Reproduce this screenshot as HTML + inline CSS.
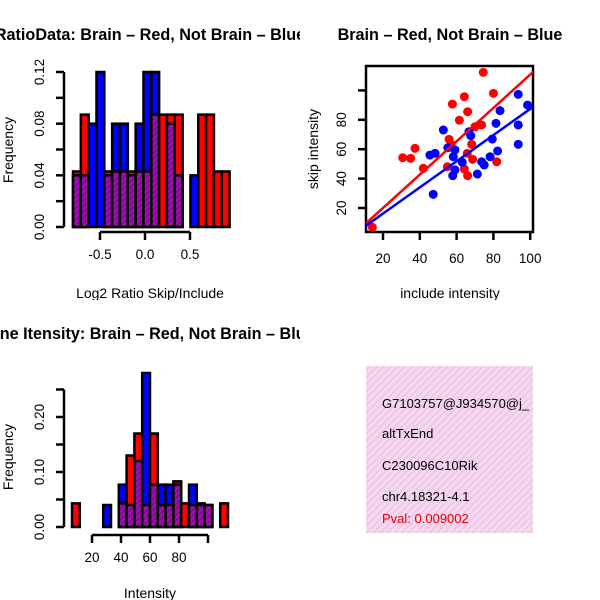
<!DOCTYPE html>
<html><head><meta charset="utf-8"><style>
html,body{margin:0;padding:0;background:#fff;}
svg{display:block;font-family:"Liberation Sans",Arial,sans-serif;}
</style></head><body>
<svg id="c" width="600" height="600" viewBox="0 0 600 600">
<defs>
<pattern id="purp" patternUnits="userSpaceOnUse" width="4" height="4" patternTransform="rotate(45)">
<rect width="4" height="4" fill="#a010b0"/><rect width="1.5" height="4" fill="#7a0a8a"/></pattern>
<pattern id="pink" patternUnits="userSpaceOnUse" width="5" height="5" patternTransform="rotate(45)">
<rect width="5" height="5" fill="#f6d6f2"/><rect width="1.5" height="5" fill="#e8c8dc"/></pattern>
<clipPath id="p1"><rect x="0" y="0" width="300" height="300"/></clipPath>
<clipPath id="p2"><rect x="300" y="0" width="300" height="300"/></clipPath>
<clipPath id="p3"><rect x="0" y="300" width="300" height="300"/></clipPath>
<clipPath id="p4"><rect x="366" y="366" width="167" height="167"/></clipPath>
<clipPath id="sc"><rect x="366" y="66" width="167" height="166"/></clipPath>
</defs>
<g id="g1" clip-path="url(#p1)"></g>
<g id="g2" clip-path="url(#p2)"></g>
<g id="g3" clip-path="url(#p3)"></g>
<g id="g4">
<rect x="366" y="366" width="167" height="167" fill="url(#pink)"/>
<g clip-path="url(#p4)" font-size="13">
<text x="382" y="408">G7103757@J934570@j_</text>
<text x="382" y="438">altTxEnd</text>
<text x="382" y="470">C230096C10Rik</text>
<text x="382" y="501">chr4.18321-4.1</text>
<text x="382" y="523" fill="#e00000">Pval: 0.009002</text>
</g></g>
</svg>
<script>
// Histogram 1 data (Log2 ratio)
const h1Start = -0.8, h1Width = 0.087;
const h1Red  = [0.043,0.087,0,0,0.043,0.043,0.043,0.043,0.043,0.043,0.087,0.087,0.087,0.087,0,0,0.087,0.087,0.043,0.043];
const h1Blue = [0.04,0.04,0.08,0.12,0.04,0.08,0.08,0.04,0.08,0.12,0.12,0,0.08,0.04,0,0.04,0,0,0,0];
const h1YTicks = [0,0.02,0.04,0.06,0.08,0.1,0.12];
const h1YLabels = ["0.00","","0.04","","0.08","","0.12"];
const h1XTicks = [-0.5,0,0.5];
const h1XLabels = ["-0.5","0.0","0.5"];
// Histogram 2 data (Intensity)
const h2Start = 6.2, h2Width = 5.38;
const h2Red  = [0.043,0,0,0,0,0,0.043,0.13,0.17,0.04,0.17,0.04,0.04,0.083,0.043,0.04,0.043,0.04,0,0.043];
const h2Blue = [0,0,0,0,0.04,0,0.077,0.04,0.12,0.28,0.077,0.077,0.077,0.077,0,0.077,0.04,0.04,0,0];
const h2YTicks = [0,0.05,0.1,0.15,0.2,0.25];
const h2YLabels = ["0.00","","0.10","","0.20",""];
const h2XTicks = [20,40,60,80,100];
const h2XLabels = ["20","40","60","80",""];
// Scatter data
const redX = [74.5,80,64.2,57.7,66,61.5,73.6,70,55.9,57,68.2,37.4,30.7,35,41.9,55,65.8,68.7,64.2,66,81.8,14.2];
const redY = [112.3,98,95.7,90.7,85.5,79.7,76.5,75.3,66.7,63.3,63.3,60.6,54.2,53.8,47,48.1,57.2,53.1,46.5,42,51.5,6.9];
const blueX = [93.5,98.6,83.6,81.4,93.5,52.8,66.7,67.7,79.4,93.5,55.2,59.1,58.2,45.5,48.3,63.1,73.6,75,78.2,82.3,59.1,57.9,71.3,47.3];
const blueY = [97.3,90,86.2,77.6,76.5,73.1,71.9,69.2,66.9,63.3,61,59.5,54.9,56,57.2,51.1,51.5,49.3,54.9,58.8,45.9,42,43.1,29.3];
const redFit = [-2.65,1.134];
const blueFit = [-1.6,0.89];
const scXTicks = [20,40,60,80,100];
const scYTicks = [20,40,60,80,100];
const scYLabels = ["20","40","60","80",""];

const NS="http://www.w3.org/2000/svg";
const TF=13.5, LF=14, TT=16.2;
function mk(parent,tag,attrs){const e=document.createElementNS(NS,tag);for(const k in attrs)e.setAttribute(k,attrs[k]);parent.appendChild(e);return e;}

function hist(g,start,width,red,blue,sx,sy,name){
  for(let i=0;i<red.length;i++){
    const x0=sx(start+i*width), x1=sx(start+(i+1)*width);
    const r=red[i], b=blue[i];
    const mx=Math.max(r,b), mn=Math.min(r,b);
    if(mx>0){
      const big=mk(g,'rect',{x:x0,y:sy(mx),width:x1-x0,height:sy(0)-sy(mx),fill:r>=b?'#ff0000':'#0000ff',stroke:'#000','stroke-width':2.5});
      
      
    }
    if(mn>0){
      const ov=mk(g,'rect',{x:x0,y:sy(mn),width:x1-x0,height:sy(0)-sy(mn),fill:'url(#purp)',stroke:'#000','stroke-width':2.5});
      
      
    }
  }
}
function yaxis(g,x,ticks,labels,sy,name){
  const l=mk(g,'line',{x1:x,x2:x,y1:sy(ticks[0]),y2:sy(ticks[ticks.length-1]),stroke:'#000','stroke-width':2.5});
  
  
  ticks.forEach((t,i)=>{
    mk(g,'line',{x1:x-8,x2:x,y1:sy(t),y2:sy(t),stroke:'#000','stroke-width':2.5});
    if(labels[i]){const tx=mk(g,'text',{x:x-20,y:sy(t),'font-size':TF,'text-anchor':'middle',transform:`rotate(-90 ${x-20} ${sy(t)})`});tx.textContent=labels[i];
      
      }
  });
}
function xaxis(g,y,ticks,labels,sx,name){
  const l=mk(g,'line',{x1:sx(ticks[0]),x2:sx(ticks[ticks.length-1]),y1:y,y2:y,stroke:'#000','stroke-width':2.5});
  
  
  ticks.forEach((t,i)=>{
    mk(g,'line',{x1:sx(t),x2:sx(t),y1:y,y2:y+8,stroke:'#000','stroke-width':2.5});
    if(labels[i]){const tx=mk(g,'text',{x:sx(t),y:y+27,'font-size':TF,'text-anchor':'middle'});tx.textContent=labels[i];
      
      }
  });
}
function label(g,x,y,txt,opts,name){
  const t=mk(g,'text',Object.assign({x:x,y:y,'text-anchor':'middle'},opts));t.textContent=txt;
  
  
}

// Panel 1
const g1=document.getElementById('g1');
const sx1=v=>145+v*90, sy1=v=>227-v/0.12*155;
hist(g1,h1Start,h1Width,h1Red,h1Blue,sx1,sy1,'ratio');
yaxis(g1,64,h1YTicks,h1YLabels,sy1,'ratio');
xaxis(g1,232,h1XTicks,h1XLabels,sx1,'ratio');
label(g1,150,40,'RatioData: Brain \u2013 Red, Not Brain \u2013 Blue',{'font-size':TT,'font-weight':'bold'},'ratio-title');
label(g1,150,298,'Log2 Ratio Skip/Include',{'font-size':LF},'ratio-x-title');
label(g1,13,150,'Frequency',{'font-size':LF,transform:'rotate(-90 13 150)'},'ratio-y-title');

// Panel 3
const g3=document.getElementById('g3');
const sx3=v=>92+(v-20)*1.45, sy3=v=>527-v/0.05*27.5;
hist(g3,h2Start,h2Width,h2Red,h2Blue,sx3,sy3,'intensity');
yaxis(g3,64,h2YTicks,h2YLabels,sy3,'intensity');
xaxis(g3,535,h2XTicks,h2XLabels,sx3,'intensity');
label(g3,150,339,'Line Itensity: Brain \u2013 Red, Not Brain \u2013 Blue',{'font-size':TT,'font-weight':'bold'},'intensity-title');
label(g3,150,598,'Intensity',{'font-size':LF},'intensity-x-title');
label(g3,13,457,'Frequency',{'font-size':LF,transform:'rotate(-90 13 457)'},'intensity-y-title');

// Panel 2 scatter
const g2=document.getElementById('g2');
const sx2=v=>383+(v-20)*1.84, sy2=v=>208-(v-20)*1.47;
const fr=mk(g2,'rect',{x:366,y:66,width:167,height:166,fill:'none',stroke:'#000','stroke-width':2.5});


const pts=mk(g2,'g',{'clip-path':'url(#sc)'});
redX.forEach((x,i)=>{const c=mk(pts,'circle',{cx:sx2(x),cy:sy2(redY[i]),r:4.5,fill:'#ff0000'});
  
  });
blueX.forEach((x,i)=>{const c=mk(pts,'circle',{cx:sx2(x),cy:sy2(blueY[i]),r:4.5,fill:'#0000ff'});
  
  });
[[redFit,'#ff0000','red-fit-line'],[blueFit,'#0000ff','blue-fit-line']].forEach(([f,col,nm])=>{
  const xa=0,xb=120;
  const l=mk(pts,'line',{x1:sx2(xa),y1:sy2(f[0]+f[1]*xa),x2:sx2(xb),y2:sy2(f[0]+f[1]*xb),stroke:col,'stroke-width':2.5});
  
  
});
scXTicks.forEach(t=>{mk(g2,'line',{x1:sx2(t),x2:sx2(t),y1:232,y2:240,stroke:'#000','stroke-width':2.5});
  const tx=mk(g2,'text',{x:sx2(t),y:263,'font-size':TF,'text-anchor':'middle'});tx.textContent=t;
  
  });
scYTicks.forEach((t,i)=>{mk(g2,'line',{x1:358,x2:366,y1:sy2(t),y2:sy2(t),stroke:'#000','stroke-width':2.5});
  if(scYLabels[i]){const tx=mk(g2,'text',{x:346,y:sy2(t),'font-size':TF,'text-anchor':'middle',transform:`rotate(-90 346 ${sy2(t)})`});tx.textContent=scYLabels[i];
  
  }});
label(g2,450,40,'Brain \u2013 Red, Not Brain \u2013 Blue',{'font-size':TT,'font-weight':'bold'},'scatter-title');
label(g2,450,298,'include intensity',{'font-size':LF},'scatter-x-title');
label(g2,318,149,'skip intensity',{'font-size':LF,transform:'rotate(-90 318 149)'},'scatter-y-title');
</script>
</body></html>
